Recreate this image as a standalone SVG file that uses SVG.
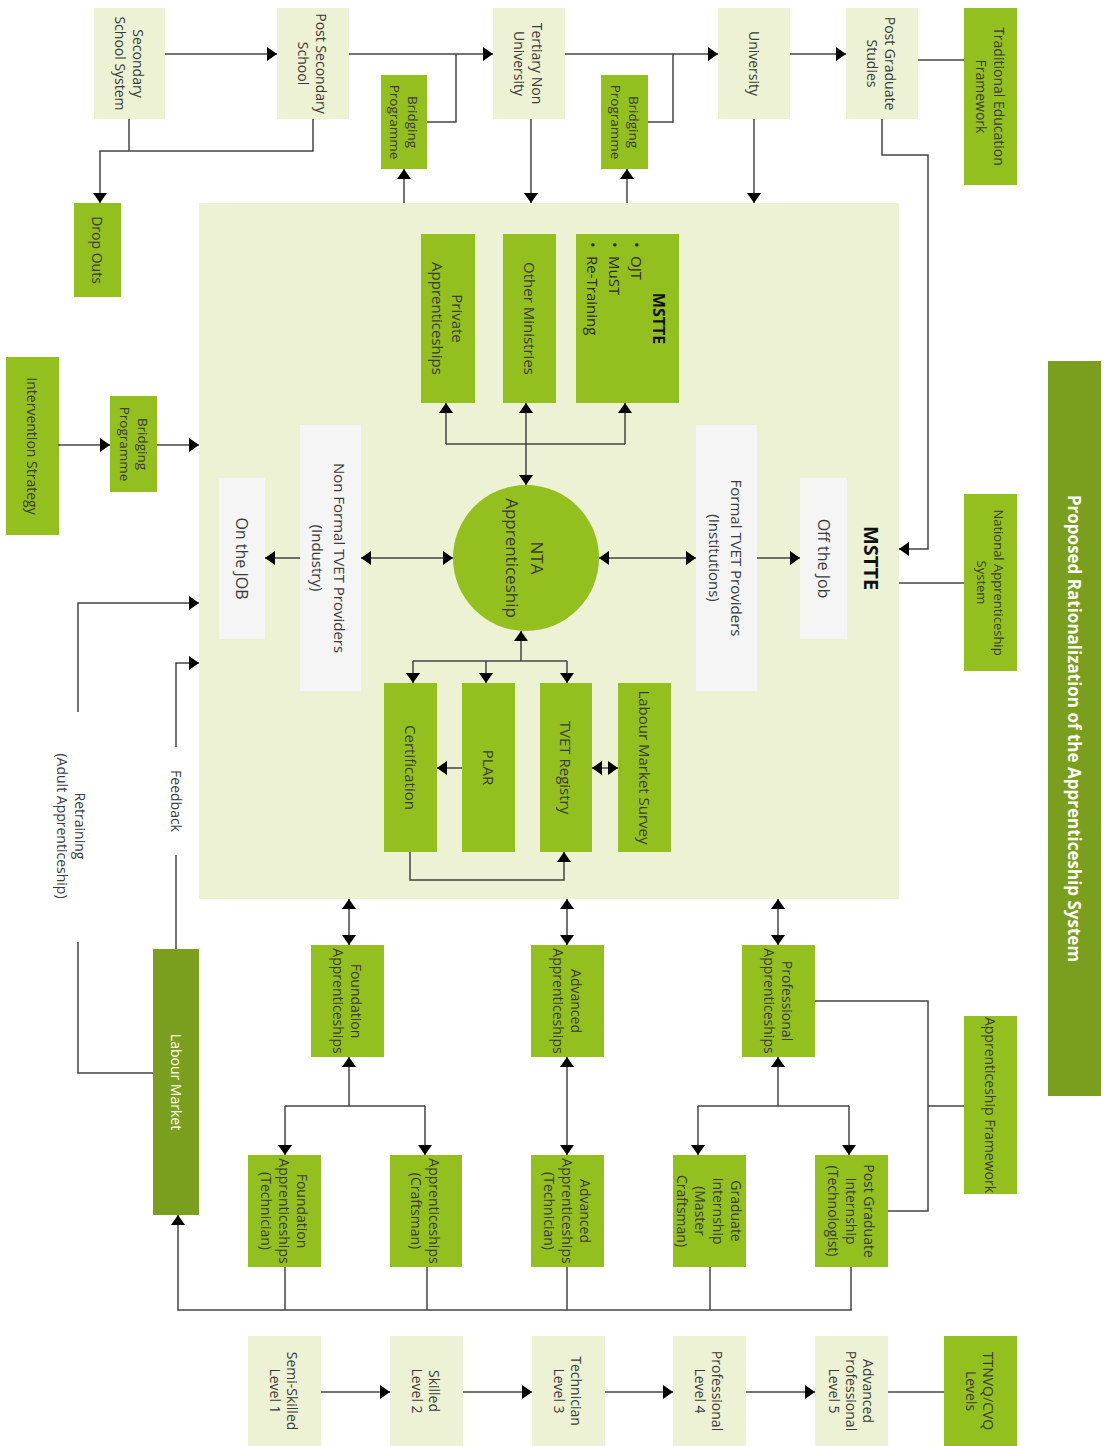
<svg xmlns="http://www.w3.org/2000/svg" width="1113" height="1446" viewBox="0 0 1113 1446">
<defs>
<marker id="ah" viewBox="0 0 10 10" refX="10" refY="5" markerWidth="10" markerHeight="14" markerUnits="userSpaceOnUse" orient="auto-start-reverse" preserveAspectRatio="none"><path d="M0,0 L10,5 L0,10 z" fill="#000"/></marker>
<style>
.lt{fill:#ECF2D3}
.gr{fill:#93C01F}
.dk{fill:#7A9E1D}
.gy{fill:#F5F5F5}
.t{font-family:"Open Sans","Liberation Sans",sans-serif;font-weight:400;font-size:14px;fill:#3a3a3a;text-anchor:middle;dominant-baseline:central}
.s{font-size:13.5px}
.m{font-size:15px}
.l{font-size:16px}
.w{fill:#fff}
.b{font-weight:700;fill:#111}
.ts{font-family:"Open Sans","Liberation Sans",sans-serif;font-weight:400;font-size:15px;fill:#2a2a2a;dominant-baseline:central}
.c{stroke:#444;stroke-width:1.5;fill:none}
.a{marker-end:url(#ah)}
.aa{marker-start:url(#ah);marker-end:url(#ah)}
</style>
</defs>
<rect width="1113" height="1446" fill="#fff"/>

<g id="secondary"><rect class="lt" x="94" y="8" width="71" height="111"/><text class="t" transform="translate(129.5,63.5) rotate(90)"><tspan x="0" y="-9">Secondary</tspan><tspan x="0" y="9">School System</tspan></text></g>
<g id="post-secondary"><rect class="lt" x="277" y="8" width="72" height="111"/><text class="t" transform="translate(313,63.5) rotate(90)"><tspan x="0" y="-9">Post Secondary</tspan><tspan x="0" y="9">School</tspan></text></g>
<g id="tertiary"><rect class="lt" x="493" y="8" width="72" height="111"/><text class="t" transform="translate(529,63.5) rotate(90)"><tspan x="0" y="-9">Tertiary Non</tspan><tspan x="0" y="9">University</tspan></text></g>
<g id="university"><rect class="lt" x="718" y="8" width="72" height="111"/><text class="t" transform="translate(754,63.5) rotate(90)">University</text></g>
<g id="post-graduate"><rect class="lt" x="846" y="8" width="72" height="111"/><text class="t" transform="translate(882,63.5) rotate(90)"><tspan x="0" y="-9">Post Graduate</tspan><tspan x="0" y="9">Studies</tspan></text></g>
<g id="traditional"><rect class="gr" x="964" y="8" width="53" height="177"/><text class="t" transform="translate(990.5,96.5) rotate(90)"><tspan x="0" y="-9">Traditional Education</tspan><tspan x="0" y="9">Framework</tspan></text></g>
<g id="bridging-1"><rect class="gr" x="381" y="75" width="46" height="94"/><text class="t s" transform="translate(404,122) rotate(90)"><tspan x="0" y="-9">Bridging</tspan><tspan x="0" y="9">Programme</tspan></text></g>
<g id="bridging-2"><rect class="gr" x="601" y="75" width="47" height="94"/><text class="t s" transform="translate(624.5,122) rotate(90)"><tspan x="0" y="-9">Bridging</tspan><tspan x="0" y="9">Programme</tspan></text></g>
<g id="drop-outs"><rect class="gr" x="74" y="203" width="47" height="94"/><text class="t" transform="translate(97.5,250) rotate(90)">Drop Outs</text></g>

<g id="mstte-frame"><rect class="lt" x="199" y="203" width="700" height="696"/><text class="t b" style="font-size:20px" transform="translate(871,558) rotate(90)">MSTTE</text></g>
<g id="private"><rect class="gr" x="421" y="234" width="54" height="169"/><text class="t m" transform="translate(448,318.5) rotate(90)"><tspan x="0" y="-10">Private</tspan><tspan x="0" y="10">Apprenticeships</tspan></text></g>
<g id="other-ministries"><rect class="gr" x="503" y="234" width="53" height="169"/><text class="t m" transform="translate(529.5,318.5) rotate(90)">Other Ministries</text></g>
<g id="mstte-box"><rect class="gr" x="576" y="234" width="103" height="169"/><text class="t b" style="font-size:16px" transform="translate(659,318.5) rotate(90)">MSTTE</text>
<text class="ts" transform="translate(637,242) rotate(90)"><tspan x="0">•</tspan><tspan x="14">OJT</tspan></text>
<text class="ts" transform="translate(615,242) rotate(90)"><tspan x="0">•</tspan><tspan x="14">MuST</tspan></text>
<text class="ts" transform="translate(593,242) rotate(90)"><tspan x="0">•</tspan><tspan x="14">Re-Training</tspan></text></g>
<g id="nta"><circle class="gr" cx="526" cy="558" r="73"/><text class="t" style="font-size:17px" transform="translate(525,558) rotate(90)"><tspan x="0" y="-12.5">NTA</tspan><tspan x="0" y="12.5">Apprenticeship</tspan></text></g>
<g id="non-formal"><rect class="gy" x="300" y="425" width="61" height="266"/><text class="t m" transform="translate(329,558) rotate(90)"><tspan x="0" y="-11">Non Formal TVET Providers</tspan><tspan x="0" y="11">(Industry)</tspan></text></g>
<g id="on-the-job"><rect class="gy" x="219" y="478" width="46" height="161"/><text class="t l" transform="translate(242,558.5) rotate(90)">On the JOB</text></g>
<g id="formal"><rect class="gy" x="696" y="425" width="61" height="266"/><text class="t m" transform="translate(725.5,558) rotate(90)"><tspan x="0" y="-11">Formal TVET Providers</tspan><tspan x="0" y="11">(Institutions)</tspan></text></g>
<g id="off-the-job"><rect class="gy" x="800" y="478" width="47" height="161"/><text class="t l" transform="translate(823.5,558.5) rotate(90)">Off the Job</text></g>
<g id="certification"><rect class="gr" x="384" y="683" width="53" height="169"/><text class="t m" transform="translate(410.5,767.5) rotate(90)">Certification</text></g>
<g id="plar"><rect class="gr" x="462" y="683" width="53" height="169"/><text class="t m" transform="translate(488.5,767.5) rotate(90)">PLAR</text></g>
<g id="tvet-registry"><rect class="gr" x="540" y="683" width="52" height="169"/><text class="t m" transform="translate(566,767.5) rotate(90)">TVET Registry</text></g>
<g id="labour-market-survey"><rect class="gr" x="618" y="683" width="53" height="169"/><text class="t m" transform="translate(644.5,767.5) rotate(90)">Labour Market Survey</text></g>

<g id="intervention"><rect class="gr" x="6" y="357" width="53" height="178"/><text class="t" transform="translate(32.5,446) rotate(90)">Intervention Strategy</text></g>
<g id="bridging-3"><rect class="gr" x="110" y="396" width="47" height="96"/><text class="t s" transform="translate(133.5,444) rotate(90)"><tspan x="0" y="-9">Bridging</tspan><tspan x="0" y="9">Programme</tspan></text></g>
<g id="retraining-label"><text class="t" transform="translate(71.5,826) rotate(90)"><tspan x="0" y="-9">Retraining</tspan><tspan x="0" y="9">(Adult Apprenticeship)</tspan></text></g>
<g id="feedback-label"><text class="t" transform="translate(176,801) rotate(90)">Feedback</text></g>
<g id="labour-market"><rect class="dk" x="153" y="949" width="46" height="266"/><text class="t w" transform="translate(176,1082) rotate(90)">Labour Market</text></g>

<g id="foundation"><rect class="gr" x="311" y="945" width="73" height="112"/><text class="t" transform="translate(347.5,1001) rotate(90)"><tspan x="0" y="-9">Foundation</tspan><tspan x="0" y="9">Apprenticeships</tspan></text></g>
<g id="advanced"><rect class="gr" x="531" y="945" width="73" height="112"/><text class="t" transform="translate(567.5,1001) rotate(90)"><tspan x="0" y="-9">Advanced</tspan><tspan x="0" y="9">Apprenticeships</tspan></text></g>
<g id="professional"><rect class="gr" x="742" y="945" width="73" height="112"/><text class="t" transform="translate(778.5,1001) rotate(90)"><tspan x="0" y="-9">Professional</tspan><tspan x="0" y="9">Apprenticeships</tspan></text></g>
<g id="foundation-tech"><rect class="gr" x="248" y="1155" width="73" height="112"/><text class="t" transform="translate(284.5,1211) rotate(90)"><tspan x="0" y="-18">Foundation</tspan><tspan x="0" y="0">Apprenticeships</tspan><tspan x="0" y="18">(Technician)</tspan></text></g>
<g id="craftsman"><rect class="gr" x="390" y="1155" width="72" height="112"/><text class="t" transform="translate(426,1211) rotate(90)"><tspan x="0" y="-9">Apprenticeships</tspan><tspan x="0" y="9">(Craftsman)</tspan></text></g>
<g id="advanced-tech"><rect class="gr" x="531" y="1155" width="73" height="112"/><text class="t" transform="translate(567.5,1211) rotate(90)"><tspan x="0" y="-18">Advanced</tspan><tspan x="0" y="0">Apprenticeships</tspan><tspan x="0" y="18">(Technician)</tspan></text></g>
<g id="graduate-intern"><rect class="gr" x="673" y="1155" width="73" height="112"/><text class="t" transform="translate(709.5,1211) rotate(90)"><tspan x="0" y="-27">Graduate</tspan><tspan x="0" y="-9">Internship</tspan><tspan x="0" y="9">(Master</tspan><tspan x="0" y="27">Craftsman)</tspan></text></g>
<g id="pg-intern"><rect class="gr" x="815" y="1155" width="73" height="112"/><text class="t" transform="translate(851.5,1211) rotate(90)"><tspan x="0" y="-18">Post Graduate</tspan><tspan x="0" y="0">Internship</tspan><tspan x="0" y="18">(Technologist)</tspan></text></g>
<g id="apprenticeship-framework"><rect class="gr" x="964" y="1016" width="53" height="178"/><text class="t" transform="translate(990.5,1105) rotate(90)">Apprenticeship Framework</text></g>
<g id="national-system"><rect class="gr" x="964" y="494" width="53" height="177"/><text class="t" style="font-size:13px" transform="translate(990.5,582.5) rotate(90)"><tspan x="0" y="-8.5">National Apprenticeship</tspan><tspan x="0" y="8.5">System</tspan></text></g>
<g id="title"><rect class="dk" x="1048" y="361" width="53" height="735"/><text class="t w" style="font-weight:700;font-size:17px" transform="translate(1074.5,728.5) rotate(90)">Proposed Rationalization of the Apprenticeship System</text></g>

<g id="level-1"><rect class="lt" x="248" y="1336" width="73" height="110"/><text class="t" transform="translate(284.5,1391) rotate(90)"><tspan x="0" y="-8.5">Semi-Skilled</tspan><tspan x="0" y="8.5">Level 1</tspan></text></g>
<g id="level-2"><rect class="lt" x="390" y="1336" width="73" height="110"/><text class="t" transform="translate(426.5,1391) rotate(90)"><tspan x="0" y="-8.5">Skilled</tspan><tspan x="0" y="8.5">Level 2</tspan></text></g>
<g id="level-3"><rect class="lt" x="532" y="1336" width="73" height="110"/><text class="t" transform="translate(568.5,1391) rotate(90)"><tspan x="0" y="-8.5">Technician</tspan><tspan x="0" y="8.5">Level 3</tspan></text></g>
<g id="level-4"><rect class="lt" x="673" y="1336" width="73" height="110"/><text class="t" transform="translate(709.5,1391) rotate(90)"><tspan x="0" y="-8.5">Professional</tspan><tspan x="0" y="8.5">Level 4</tspan></text></g>
<g id="level-5"><rect class="lt" x="815" y="1336" width="73" height="110"/><text class="t" transform="translate(851.5,1391) rotate(90)"><tspan x="0" y="-17">Advanced</tspan><tspan x="0" y="0">Professional</tspan><tspan x="0" y="17">Level 5</tspan></text></g>
<g id="ttnvq"><rect class="gr" x="944" y="1336" width="73" height="110"/><text class="t" transform="translate(980.5,1391) rotate(90)"><tspan x="0" y="-8.5">TTNVQ/CVQ</tspan><tspan x="0" y="8.5">Levels</tspan></text></g>

<g id="connectors">
<path class="c a" d="M165,54 H277"/>
<path class="c a" d="M349,54 H493"/>
<path class="c" d="M427,122 H456 V54"/>
<path class="c a" d="M565,54 H718"/>
<path class="c" d="M648,122 H673 V54"/>
<path class="c a" d="M790,54 H846"/>
<path class="c" d="M918,60 H964"/>
<path class="c" d="M129,119 V151"/>
<path class="c a" d="M313,119 V151 H100 V203"/>
<path class="c a" d="M531,119 V203"/>
<path class="c a" d="M754,119 V203"/>
<path class="c a" d="M404,203 V169"/>
<path class="c a" d="M627,203 V169"/>
<path class="c a" d="M882,119 V155 H928 V549 H899"/>
<path class="c" d="M899,583 H964"/>
<path class="c a" d="M58,445 H110"/>
<path class="c a" d="M157,445 H199"/>
<path class="c" d="M153,1073 H78 V942"/>
<path class="c a" d="M78,712 V603 H199"/>
<path class="c" d="M176,949 V855"/>
<path class="c a" d="M176,747 V663 H199"/>
<path class="c aa" d="M526,485 V403"/>
<path class="c" d="M446,444 H625"/>
<path class="c a" d="M446,444 V403"/>
<path class="c a" d="M625,444 V403"/>
<path class="c aa" d="M361,558 H453"/>
<path class="c a" d="M300,558 H265"/>
<path class="c aa" d="M599,558 H696"/>
<path class="c a" d="M757,558 H800"/>
<path class="c a" d="M521,661 V631"/>
<path class="c" d="M413,661 H567"/>
<path class="c a" d="M413,661 V683"/>
<path class="c a" d="M486,661 V683"/>
<path class="c a" d="M567,661 V683"/>
<path class="c a" d="M462,768 H437"/>
<path class="c aa" d="M592,768 H618"/>
<path class="c a" d="M410,852 V880 H564 V852"/>
<path class="c aa" d="M349,899 V945"/>
<path class="c aa" d="M567,899 V945"/>
<path class="c aa" d="M778,899 V945"/>
<path class="c a" d="M349,1106 V1057"/>
<path class="c" d="M285,1106 H425"/>
<path class="c a" d="M285,1106 V1155"/>
<path class="c a" d="M425,1106 V1155"/>
<path class="c aa" d="M567,1057 V1155"/>
<path class="c a" d="M778,1106 V1057"/>
<path class="c" d="M698,1106 H849"/>
<path class="c a" d="M698,1106 V1155"/>
<path class="c a" d="M849,1106 V1155"/>
<path class="c" d="M815,1001 H928 V1211 H888"/>
<path class="c" d="M928,1106 H964"/>
<path class="c a" d="M851,1267 V1310 H178 V1215"/>
<path class="c" d="M285,1267 V1310"/>
<path class="c" d="M427,1267 V1310"/>
<path class="c" d="M567,1267 V1310"/>
<path class="c" d="M710,1267 V1310"/>
<path class="c a" d="M321,1392 H390"/>
<path class="c a" d="M463,1392 H532"/>
<path class="c a" d="M605,1392 H673"/>
<path class="c a" d="M746,1392 H815"/>
<path class="c" d="M888,1392 H944"/>
</g>
</svg>
